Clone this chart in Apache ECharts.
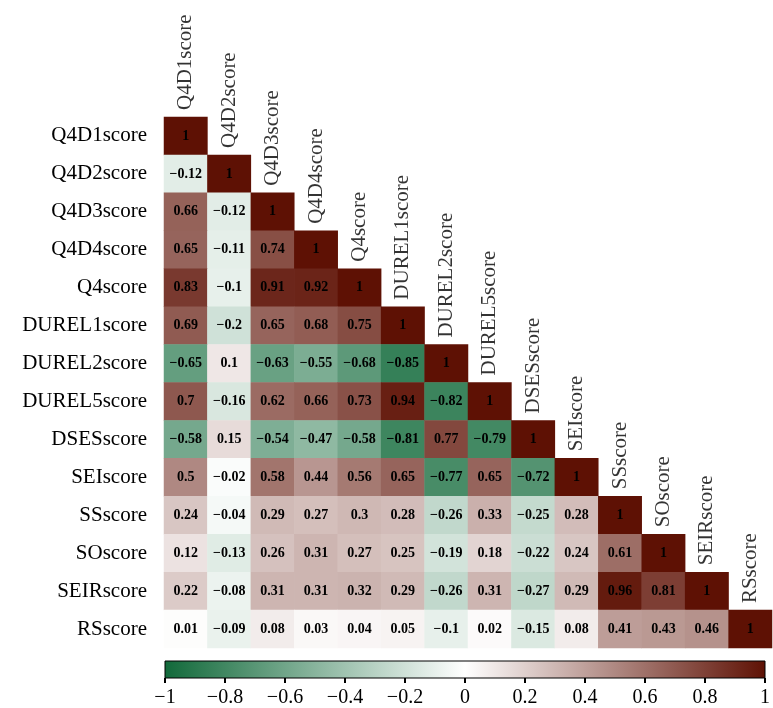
<!DOCTYPE html>
<html>
<head>
<meta charset="utf-8">
<script src="https://cdn.jsdelivr.net/npm/echarts@6/dist/echarts.min.js"></script>
<style>
  html, body { margin: 0; padding: 0; background: #fff; }
  #chart { width: 773px; height: 708px; }
</style>
</head>
<body>
<div id="chart"></div>
<script>
// Variable names (rows top to bottom, columns left to right)
const variables = [
  'Q4D1score', 'Q4D2score', 'Q4D3score', 'Q4D4score', 'Q4score',
  'DUREL1score', 'DUREL2score', 'DUREL5score', 'DSESscore', 'SEIscore',
  'SSscore', 'SOscore', 'SEIRscore', 'RSscore'
];

// Lower-triangle correlation coefficients, one row per variable
const corrRows = [
  [1],
  [-0.12, 1],
  [0.66, -0.12, 1],
  [0.65, -0.11, 0.74, 1],
  [0.83, -0.1, 0.91, 0.92, 1],
  [0.69, -0.2, 0.65, 0.68, 0.75, 1],
  [-0.65, 0.1, -0.63, -0.55, -0.68, -0.85, 1],
  [0.7, -0.16, 0.62, 0.66, 0.73, 0.94, -0.82, 1],
  [-0.58, 0.15, -0.54, -0.47, -0.58, -0.81, 0.77, -0.79, 1],
  [0.5, -0.02, 0.58, 0.44, 0.56, 0.65, -0.77, 0.65, -0.72, 1],
  [0.24, -0.04, 0.29, 0.27, 0.3, 0.28, -0.26, 0.33, -0.25, 0.28, 1],
  [0.12, -0.13, 0.26, 0.31, 0.27, 0.25, -0.19, 0.18, -0.22, 0.24, 0.61, 1],
  [0.22, -0.08, 0.31, 0.31, 0.32, 0.29, -0.26, 0.31, -0.27, 0.29, 0.96, 0.81, 1],
  [0.01, -0.09, 0.08, 0.03, 0.04, 0.05, -0.1, 0.02, -0.15, 0.08, 0.41, 0.43, 0.46, 1]
];

// Colour scale: stops for -1, 0, 1
const scaleColors = ['#11693A', '#ffffff', '#5E1104'];
const scaleMin = -1, scaleMax = 1, scaleStep = 0.2;

const SERIF = '"Liberation Serif", "Times New Roman", serif';
const fmtMinus = v => String(v).replace('-', '\u2212');

// Build heatmap cells [col, row, value]
const cells = [];
corrRows.forEach((row, i) => {
  row.forEach((v, j) => cells.push([j, i, v]));
});
// Diagonal anchors for the column headers
const diag = variables.map((name, i) => [i, i, name]);

// Horizontal gradient for the colour bar, same stops as the visual map
const barGradient = new echarts.graphic.LinearGradient(0, 0, 1, 0,
  scaleColors.map((c, k) => ({ offset: k / (scaleColors.length - 1), color: c })));

const chart = echarts.init(document.getElementById('chart'), null, { renderer: 'canvas' });

chart.setOption({
  animation: false,
  backgroundColor: '#ffffff',
  grid: [
    { left: 164, right: 1, top: 117, bottom: 60 },
    { left: 165, width: 605, top: 661, height: 21, show: true,
      borderColor: '#000', borderWidth: 1, backgroundColor: barGradient }
  ],
  xAxis: [
    { type: 'category', data: variables, gridIndex: 0, show: false },
    { type: 'value', gridIndex: 1, min: scaleMin, max: scaleMax, interval: scaleStep,
      axisLine: { show: false },
      splitLine: { show: false },
      axisTick: { show: true, length: 5, lineStyle: { color: '#000', width: 2 } },
      axisLabel: {
        margin: 10, fontSize: 20, fontFamily: SERIF, color: '#000',
        formatter: v => fmtMinus(Math.round(v * 10) / 10)
      } }
  ],
  yAxis: [
    { type: 'category', data: variables, gridIndex: 0, inverse: true,
      axisLine: { show: false }, axisTick: { show: false }, splitLine: { show: false },
      axisLabel: { fontSize: 21, fontFamily: SERIF, color: '#000', margin: 17 } },
    { type: 'value', gridIndex: 1, show: false, min: 0, max: 1 }
  ],
  visualMap: {
    type: 'continuous',
    show: false,
    seriesIndex: 0,
    min: scaleMin, max: scaleMax,
    inRange: { color: scaleColors }
  },
  series: [
    {
      type: 'heatmap',
      xAxisIndex: 0, yAxisIndex: 0,
      data: cells,
      itemStyle: { borderWidth: 0 },
      label: {
        show: true, color: '#000', fontSize: 14, fontWeight: 'bold', fontFamily: SERIF,
        formatter: p => fmtMinus(p.value[2])
      },
      emphasis: { disabled: true }
    },
    {
      type: 'scatter',
      xAxisIndex: 0, yAxisIndex: 0,
      data: diag,
      symbol: 'rect',
      symbolSize: [43.4, 37.9],
      itemStyle: { color: 'rgba(0,0,0,0)' },
      silent: true,
      label: {
        show: true, position: 'top', distance: 7, rotate: 90,
        align: 'left', verticalAlign: 'middle',
        fontSize: 21, fontFamily: SERIF, color: '#000',
        formatter: p => p.value[2]
      },
      emphasis: { disabled: true }
    }
  ]
});
</script>
</body>
</html>
